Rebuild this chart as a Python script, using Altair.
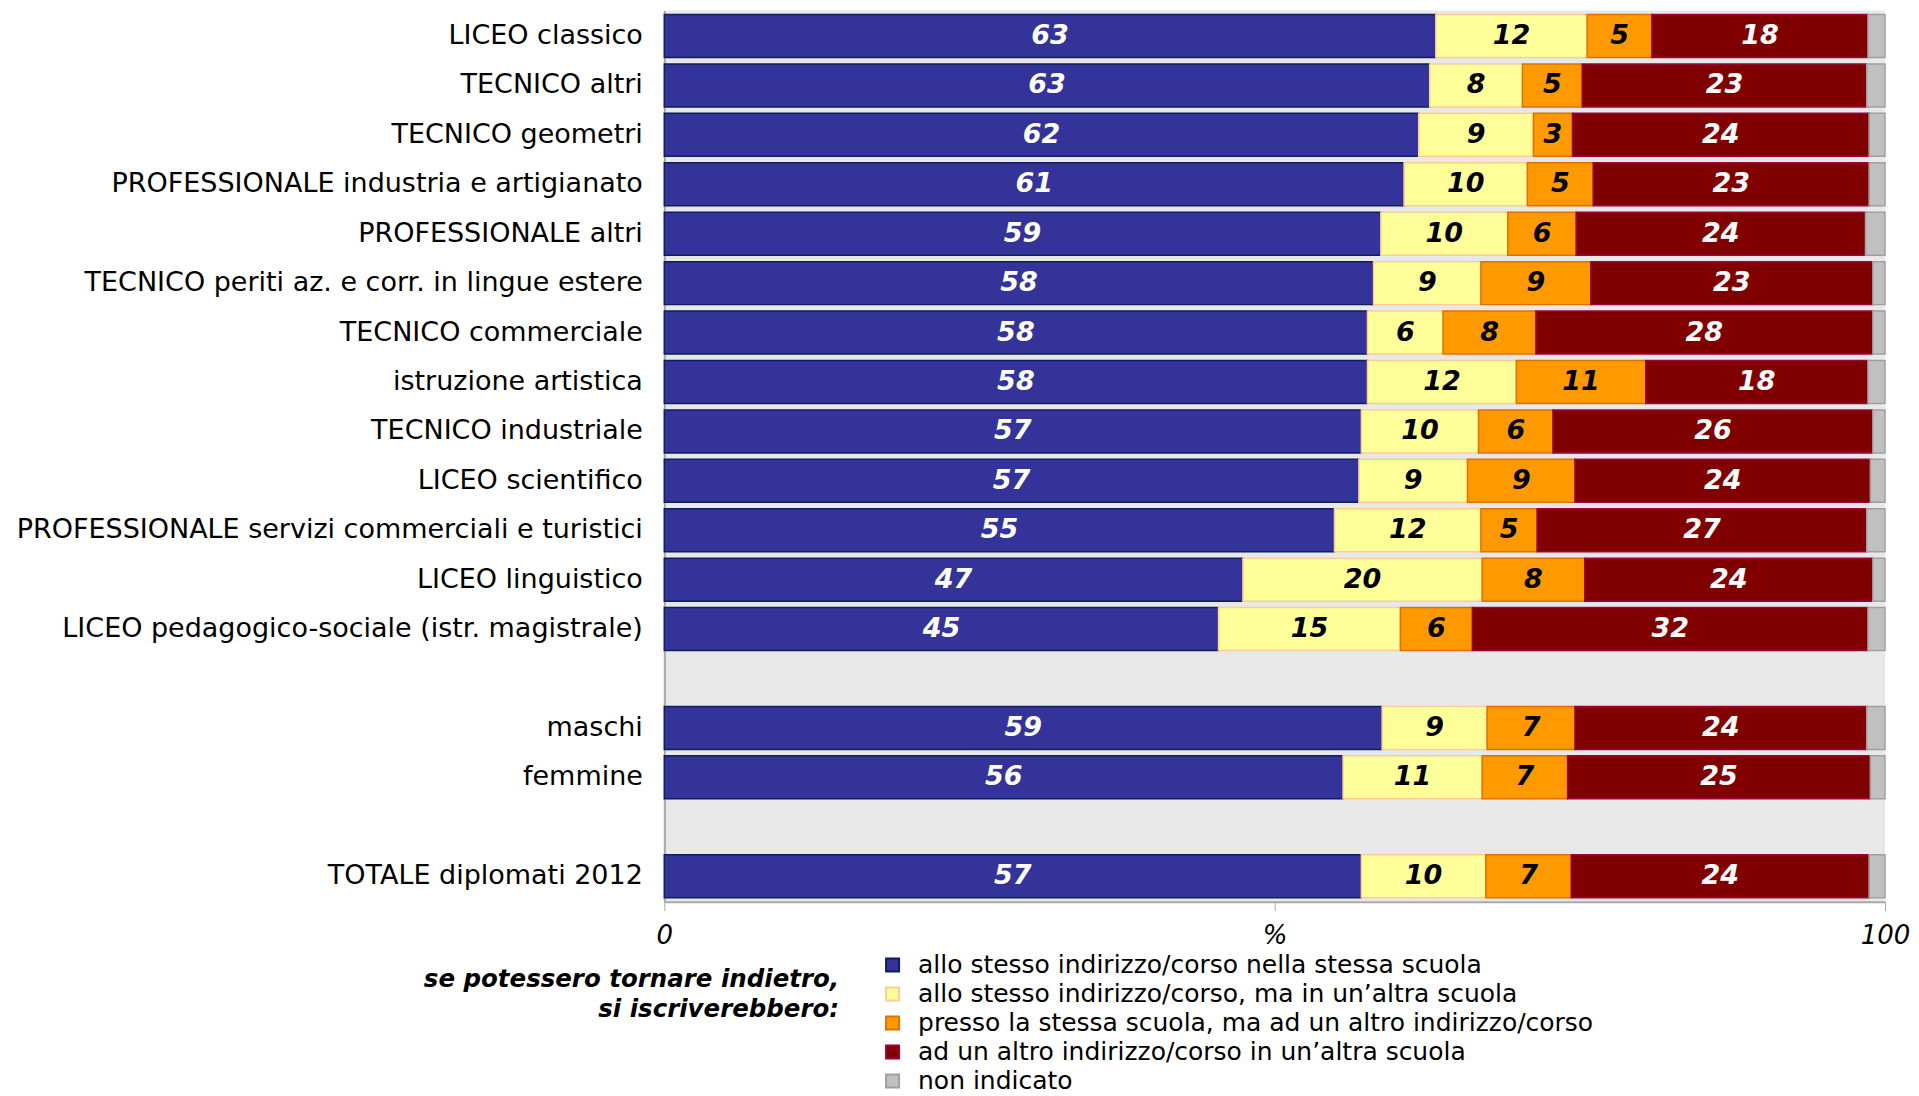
import altair as alt
import pandas as pd

categories = [
    "LICEO classico",
    "TECNICO altri",
    "TECNICO geometri",
    "PROFESSIONALE industria e artigianato",
    "PROFESSIONALE altri",
    "TECNICO periti az. e corr. in lingue estere",
    "TECNICO commerciale",
    "istruzione artistica",
    "TECNICO industriale",
    "LICEO scientifico",
    "PROFESSIONALE servizi commerciali e turistici",
    "LICEO linguistico",
    "LICEO pedagogico-sociale (istr. magistrale)",
    "maschi",
    "femmine",
    "TOTALE diplomati 2012",
]

series = [
    "allo stesso indirizzo/corso nella stessa scuola",
    "allo stesso indirizzo/corso, ma in un\u2019altra scuola",
    "presso la stessa scuola, ma ad un altro indirizzo/corso",
    "ad un altro indirizzo/corso in un\u2019altra scuola",
    "non indicato",
]

legend_title = ["se potessero tornare indietro,", "si iscriverebbero:"]

stesso_stessa = [63.2, 62.7, 61.8, 60.6, 58.7, 58.1, 57.6, 57.6, 57.1, 56.9, 54.9, 47.4, 45.4, 58.8, 55.6, 57.1]
stesso_altra = [12.4, 7.6, 9.4, 10.1, 10.4, 8.8, 6.2, 12.2, 9.6, 8.9, 12.0, 19.6, 14.9, 8.6, 11.4, 10.2]
stessa_altro = [5.3, 4.9, 3.2, 5.4, 5.6, 9.0, 7.6, 10.6, 6.1, 8.8, 4.6, 8.4, 5.9, 7.2, 7.0, 7.0]
altro_altra = [17.7, 23.3, 24.3, 22.6, 23.7, 23.1, 27.6, 18.2, 26.2, 24.2, 27.0, 23.6, 32.4, 23.9, 24.8, 24.4]
non_indicato = [1.4, 1.5, 1.3, 1.3, 1.6, 1.0, 1.0, 1.4, 1.0, 1.2, 1.5, 1.0, 1.4, 1.5, 1.2, 1.3]

fills = ["#333399", "#FFFF99", "#FF9900", "#800000", "#C0C0C0"]
strokes = ["#0D1F5C", "#FFCC99", "#E07000", "#A0003C", "#A0A0A0"]

rows = []
all_vals = [stesso_stessa, stesso_altra, stessa_altro, altro_altra, non_indicato]
for i, c in enumerate(categories):
    for k, name in enumerate(series):
        rows.append({"cat": c, "series": name, "o": k, "v": all_vals[k][i]})
df = pd.DataFrame(rows)

y_domain = categories[:13] + [" "] + categories[13:15] + ["  "] + categories[15:]

FONT = "DejaVu Sans"

base = alt.Chart(df).transform_stack(
    stack="v", groupby=["cat"], as_=["x0", "x1"],
    sort=[alt.SortField("o", order="ascending")]
).transform_calculate(mid="(datum.x0 + datum.x1) / 2")

y_enc = alt.Y(
    "cat:N",
    scale=alt.Scale(domain=y_domain, paddingInner=0.13, paddingOuter=0.08),
    axis=alt.Axis(title=None, ticks=False, labelFontSize=27, labelFont=FONT,
                  labelPadding=22, labelLimit=900, labelColor="black",
                  domainColor="#A8A8A8", domainWidth=2),
)

legend_cfg = dict(
    orient="none", legendX=216, legendY=943, title=None,
    labelFont=FONT, labelFontSize=25, labelColor="black", labelOffset=13,
    symbolType="square", symbolSize=170, symbolStrokeWidth=2,
    rowPadding=3, labelLimit=900, padding=0,
)

bars = base.mark_bar(strokeWidth=1.5).encode(
    y=y_enc,
    x=alt.X("x0:Q", scale=alt.Scale(domain=[0, 100], nice=False),
            axis=alt.Axis(title=None, values=[0, 50, 100], grid=False,
                          labelExpr="datum.value == 50 ? '%' : datum.label",
                          labelFont=FONT, labelFontSize=26, labelFontStyle="italic",
                          labelColor="black", labelPadding=12, tickSize=9,
                          tickColor="#A8A8A8", domainColor="#A8A8A8", domainWidth=2,
                          labelFlush=False)),
    x2="x1:Q",
    color=alt.Color("series:N", scale=alt.Scale(domain=series, range=fills),
                    legend=alt.Legend(**legend_cfg)),
    stroke=alt.Stroke("series:N", scale=alt.Scale(domain=series, range=strokes),
                      legend=alt.Legend(**legend_cfg)),
)

labels = base.transform_filter("datum.o < 4").mark_text(
    font=FONT, fontSize=27, fontWeight="bold", fontStyle="italic"
).encode(
    y=alt.Y("cat:N"),
    x=alt.X("mid:Q"),
    text=alt.Text("v:Q", format=".0f"),
    color=alt.condition("datum.o == 0 || datum.o == 3",
                        alt.value("white"), alt.value("black")),
)

title_note = alt.Chart(pd.DataFrame({"t": [legend_title]})).mark_text(
    font=FONT, fontSize=24.5, fontWeight="bold", fontStyle="italic",
    align="right", baseline="middle", lineHeight=31, color="black"
).encode(
    text="t",
    x=alt.value(175),
    y=alt.value(970),
)

chart = alt.layer(bars, labels, title_note).properties(
    width=1222, height=892,
    padding={"left": 657, "top": 2, "right": 26, "bottom": 194},
    autosize=alt.AutoSizeParams(type="none"),
).configure_view(fill="#E8E8E8", strokeWidth=0)

chart.save("out.html", embed_options={"renderer": "svg", "actions": False})
